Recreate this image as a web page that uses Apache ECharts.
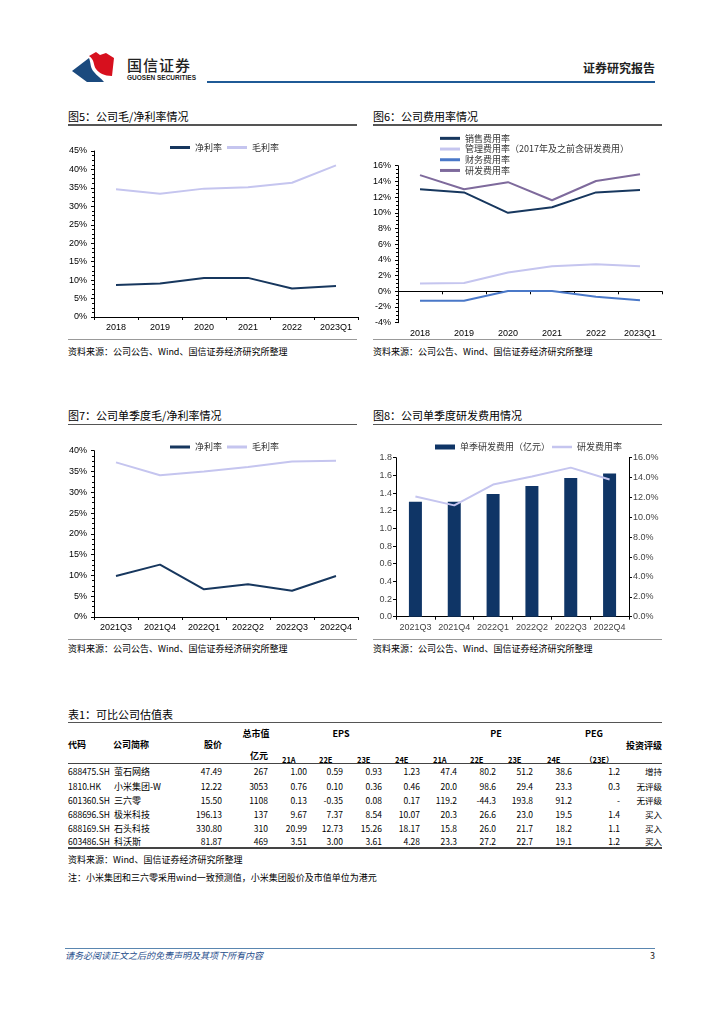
<!DOCTYPE html>
<html><head><meta charset="utf-8">
<script src="https://cdn.jsdelivr.net/npm/echarts@6/dist/echarts.min.js"></script>
<style>
html,body{margin:0;padding:0;background:#fff;}
#page{position:relative;width:724px;height:1024px;overflow:hidden;background:#fff;font-family:"Noto Sans CJK SC","Liberation Sans",sans-serif;}
.t{position:absolute;white-space:nowrap;color:#000;}
.ln{position:absolute;}
.ch{position:absolute;}
</style></head>
<body><div id="page"></div>
<script>
// ---------------- data ----------------
const years = ['2018','2019','2020','2021','2022','2023Q1'];
const netMarginAnnual = [8.7, 9.1, 10.6, 10.6, 7.7, 8.4];
const grossMarginAnnual = [34.6, 33.4, 34.8, 35.2, 36.4, 41.1];
const salesExpRate = [13.0, 12.6, 10.0, 10.7, 12.6, 12.9];
const adminExpRate = [1.0, 1.05, 2.4, 3.2, 3.45, 3.2];
const finExpRate = [-1.2, -1.2, 0.05, 0.05, -0.7, -1.15];
const rdExpRate = [14.8, 13.0, 13.9, 11.6, 14.05, 14.9];
const quarters = ['2021Q3','2021Q4','2022Q1','2022Q2','2022Q3','2022Q4'];
const netMarginQ = [9.85, 12.6, 6.65, 7.9, 6.3, 9.85];
const grossMarginQ = [37.2, 34.1, 35.0, 36.1, 37.4, 37.6];
const rdExpenseQ = [1.30, 1.30, 1.39, 1.48, 1.57, 1.62];
const rdRateQ = [12.1, 11.2, 13.3, 14.1, 15.0, 13.8];

const codes = ['688475.SH','1810.HK','601360.SH','688696.SH','688169.SH','603486.SH'];
const names = ['萤石网络','小米集团-W','三六零','极米科技','石头科技','科沃斯'];
const prices = ['47.49','12.22','15.50','196.13','330.80','81.87'];
const mcaps = ['267','3053','1108','137','310','469'];
const eps21A = ['1.00','0.76','0.13','9.67','20.99','3.51'];
const eps22E = ['0.59','0.10','-0.35','7.37','12.73','3.00'];
const eps23E = ['0.93','0.36','0.08','8.54','15.26','3.61'];
const eps24E = ['1.23','0.46','0.17','10.07','18.17','4.28'];
const pe21A = ['47.4','20.0','119.2','20.3','15.8','23.3'];
const pe22E = ['80.2','98.6','-44.3','26.6','26.0','27.2'];
const pe23E = ['51.2','29.4','193.8','23.0','21.7','22.7'];
const pe24E = ['38.6','23.3','91.2','19.5','18.2','19.1'];
const peg23E = ['1.2','0.3','-','1.4','1.1','1.2'];
const ratings = ['增持','无评级','无评级','买入','买入','买入'];

// ---------------- helpers ----------------
const page = document.getElementById('page');
function T(x, y, s, o) {
  o = o || {};
  const size = o.size || 9;
  const d = document.createElement('div');
  d.className = 't';
  d.textContent = s;
  d.style.fontSize = size + 'px';
  d.style.lineHeight = (size + 4) + 'px';
  d.style.top = (y - (size + 4) / 2) + 'px';
  if (o.color) d.style.color = o.color;
  if (o.weight) d.style.fontWeight = o.weight;
  if (o.italic) d.style.fontStyle = 'italic';
  if (o.family) d.style.fontFamily = o.family;
  if (o.ls) d.style.letterSpacing = o.ls;
  const align = o.align || 'left';
  if (align === 'left') { d.style.left = x + 'px'; }
  else if (align === 'right') { d.style.left = (x - 400) + 'px'; d.style.width = '400px'; d.style.textAlign = 'right'; }
  else { d.style.left = (x - 200) + 'px'; d.style.width = '400px'; d.style.textAlign = 'center'; }
  page.appendChild(d);
  return d;
}
function L(x1, y, x2, th, color) {
  const d = document.createElement('div');
  d.className = 'ln';
  d.style.left = x1 + 'px'; d.style.top = (y - th / 2) + 'px';
  d.style.width = (x2 - x1) + 'px'; d.style.height = th + 'px';
  d.style.background = color;
  page.appendChild(d);
}
function chartDiv(x, y, w, h) {
  const d = document.createElement('div');
  d.className = 'ch';
  d.style.left = x + 'px'; d.style.top = y + 'px';
  d.style.width = w + 'px'; d.style.height = h + 'px';
  page.appendChild(d);
  return echarts.init(d, null, { renderer: 'canvas' });
}

// ---------------- header ----------------
const svgNS = 'http://www.w3.org/2000/svg';
const logo = document.createElementNS(svgNS, 'svg');
logo.setAttribute('width', '724'); logo.setAttribute('height', '100');
logo.style.position = 'absolute'; logo.style.left = '0'; logo.style.top = '0';
logo.innerHTML =
  '<path d="M72,71 L89,58 C91,63 90,68 94,72 C97,76 101,78 104,82 L87,82 Z" fill="#1b4a7e"/>' +
  '<path d="M89,56 L96,52 L100,55 L106,53 L114,58 L112,76 C104,76 99,73 96,69 C93,65 95,60 89,56 Z" fill="#d7101e"/>';
page.appendChild(logo);
T(127, 64, '国信证券', { size: 15, color: '#222', weight: 500, ls: '1px' });
T(127, 78, 'GUOSEN SECURITIES', { size: 6.5, color: '#222', weight: 'bold', family: '"Liberation Sans",sans-serif' });
T(655, 68, '证券研究报告', { size: 12, color: '#222', weight: 'bold', align: 'right' });
L(207, 82, 655, 2.5, '#1f5a96');

// ---------------- section titles / rules ----------------
const FONT = '"Liberation Sans","Noto Sans CJK SC",sans-serif';
const NAVY = '#17375e';
const LAV = '#c5c5ef';
const srcText = '资料来源：公司公告、Wind、国信证券经济研究所整理';

T(68, 116.5, '图5：公司毛/净利率情况', { size: 11 });
L(68, 125, 357, 1.3, '#555');
T(373, 116.5, '图6：公司费用率情况', { size: 11 });
L(373, 125, 662, 1.3, '#555');
L(68, 339.5, 357, 1.5, '#999');
L(373, 339.5, 662, 1.5, '#999');
T(68, 351, srcText, { size: 9 });
T(373, 351, srcText, { size: 9 });

T(68, 415, '图7：公司单季度毛/净利率情况', { size: 11 });
L(68, 424.3, 357, 1.3, '#555');
T(373, 415, '图8：公司单季度研发费用情况', { size: 11 });
L(373, 424.3, 662, 1.3, '#555');
L(68, 639.5, 357, 1.5, '#999');
L(373, 639.5, 662, 1.5, '#999');
T(68, 648.5, srcText, { size: 9 });
T(373, 648.5, srcText, { size: 9 });

// ---------------- charts ----------------
const axisLbl = { fontSize: 9, color: '#000', fontFamily: FONT };
function catAxis(data, margin) {
  return {
    type: 'category', data: data,
    axisLine: { lineStyle: { color: '#000', width: 1 } },
    axisTick: { show: true, length: 3, lineStyle: { color: '#000' } },
    axisLabel: Object.assign({ margin: margin, interval: 0 }, axisLbl)
  };
}
function valAxis(min, max, interval, fmt, margin, minor) {
  return {
    type: 'value', min: min, max: max, interval: interval,
    splitLine: { show: false },
    axisLine: { show: true, lineStyle: { color: '#000', width: 1 } },
    axisTick: { show: true, length: 3, lineStyle: { color: '#000' } },
    minorTick: { show: !!minor, splitNumber: 4, length: 2, lineStyle: { color: '#000' } },
    axisLabel: Object.assign({ formatter: fmt, margin: margin }, axisLbl)
  };
}
function lineS(name, data, color, width, yIdx) {
  return {
    name: name, type: 'line', data: data, symbol: 'none', yAxisIndex: yIdx || 0,
    lineStyle: { color: color, width: width }, itemStyle: { color: color }, z: 3
  };
}
const legendText = { fontSize: 9, color: '#333', fontFamily: '"Noto Sans CJK SC",sans-serif' };

// Chart 5
const c5 = chartDiv(62, 128, 300, 210);
c5.setOption({
  animation: false,
  legend: { left: 103, top: 10, icon: 'rect', itemWidth: 20, itemHeight: 3, itemGap: 5, textStyle: legendText, data: ['净利率', '毛利率'] },
  grid: { left: 32, top: 23, width: 264, height: 166 },
  xAxis: catAxis(years, 6),
  yAxis: valAxis(0, 45, 5, '{value}%', 7, true),
  series: [lineS('净利率', netMarginAnnual, NAVY, 2), lineS('毛利率', grossMarginAnnual, LAV, 2)]
});

// Chart 6
const c6 = chartDiv(367, 128, 300, 210);
c6.setOption({
  animation: false,
  legend: {
    orient: 'vertical', left: 68, top: 0, icon: 'rect', itemWidth: 20, itemHeight: 3, itemGap: 0,
    textStyle: Object.assign({ lineHeight: 10.7 }, legendText),
    data: ['销售费用率', '管理费用率（2017年及之前含研发费用）', '财务费用率', '研发费用率']
  },
  grid: { left: 31, top: 37.7, width: 264, height: 157 },
  xAxis: catAxis(years, 6),
  yAxis: valAxis(-4, 16, 2, '{value}%', 7, true),
  series: [
    lineS('销售费用率', salesExpRate, NAVY, 2),
    lineS('管理费用率（2017年及之前含研发费用）', adminExpRate, LAV, 2),
    lineS('财务费用率', finExpRate, '#4a78c8', 2),
    lineS('研发费用率', rdExpRate, '#7e6a9c', 2)
  ]
});

// Chart 7
const c7 = chartDiv(62, 428, 300, 210);
c7.setOption({
  animation: false,
  legend: { left: 103, top: 9.5, icon: 'rect', itemWidth: 20, itemHeight: 3, itemGap: 5, textStyle: legendText, data: ['净利率', '毛利率'] },
  grid: { left: 32, top: 22.7, width: 264, height: 166.3 },
  xAxis: catAxis(quarters, 6),
  yAxis: valAxis(0, 40, 5, '{value}%', 7, true),
  series: [lineS('净利率', netMarginQ, NAVY, 2), lineS('毛利率', grossMarginQ, LAV, 2)]
});

// Chart 8
const c8 = chartDiv(367, 428, 300, 210);
const x8 = catAxis(quarters, 6);
x8.axisLabel.color = '#444';
const yL = valAxis(0, 1.8, 0.2, v => v.toFixed(1), 4, false);
const yR = valAxis(0, 16, 2, v => v.toFixed(1) + '%', 4, false);
yL.axisLabel.color = '#444'; yR.axisLabel.color = '#444';
yR.position = 'right';
c8.setOption({
  animation: false,
  legend: [
    { left: 63, top: 9.5, icon: 'rect', itemWidth: 20, itemHeight: 5, textStyle: legendText, data: ['单季研发费用（亿元）'] },
    { left: 180, top: 9.5, icon: 'rect', itemWidth: 20, itemHeight: 2.5, textStyle: legendText, data: ['研发费用率'] }
  ],
  grid: { left: 29, top: 29.7, width: 233, height: 159 },
  xAxis: x8,
  yAxis: [yL, yR],
  series: [
    { name: '单季研发费用（亿元）', type: 'bar', data: rdExpenseQ, barWidth: 13, itemStyle: { color: '#0f3566' } },
    lineS('研发费用率', rdRateQ, LAV, 2, 1)
  ]
});

// ---------------- table ----------------
T(68, 714, '表1：可比公司估值表', { size: 11 });
L(68, 722.7, 662, 1.3, '#555');
const hb = { size: 9, weight: 'bold' };
T(68, 744, '代码', hb);
T(113, 744, '公司简称', hb);
T(222, 744, '股价', Object.assign({ align: 'right' }, hb));
T(256, 733.5, '总市值', Object.assign({ align: 'center' }, hb));
T(268, 755, '亿元', Object.assign({ align: 'right' }, hb));
T(341, 733.5, 'EPS', Object.assign({ align: 'center', size: 8 }, hb));
T(496, 733.5, 'PE', Object.assign({ align: 'center', size: 8 }, hb));
T(594, 733.5, 'PEG', Object.assign({ align: 'center', size: 8 }, hb));
T(662, 745, '投资评级', Object.assign({ align: 'right' }, hb));
const subH = [['21A', 282], ['22E', 319], ['23E', 357], ['24E', 395], ['21A', 433], ['22E', 470], ['23E', 508], ['24E', 547], ['（23E）', 585]];
subH.forEach(s => T(s[1], 760, s[0], { size: 7.5, weight: 'bold' }));
L(68, 763.5, 662, 1.6, '#444');
const rowY = [771.7, 786, 800, 814.3, 828, 841.7];
const cols = [
  [prices, 222], [mcaps, 268], [eps21A, 307], [eps22E, 343], [eps23E, 382], [eps24E, 420],
  [pe21A, 457], [pe22E, 496], [pe23E, 533], [pe24E, 572], [peg23E, 620], [ratings, 662]
];
rowY.forEach((y, i) => {
  T(68, y, codes[i], { size: 8.5 });
  T(114, y, names[i], { size: 9 });
  cols.forEach(c => T(c[1], y, c[0][i], { size: 8.5, align: 'right' }));
});
L(68, 848, 662, 1.6, '#444');
T(68, 859.5, '资料来源：Wind、国信证券经济研究所整理', { size: 9 });
T(68, 877, '注：小米集团和三六零采用wind一致预测值，小米集团股价及市值单位为港元', { size: 9 });

// ---------------- footer ----------------
L(65, 948, 655, 1, '#5a86b0');
T(65, 955.5, '请务必阅读正文之后的免责声明及其项下所有内容', { size: 9, color: '#1f4e8c', italic: true });
T(655, 955.5, '3', { size: 9, align: 'right', color: '#222' });
</script>
</body></html>
